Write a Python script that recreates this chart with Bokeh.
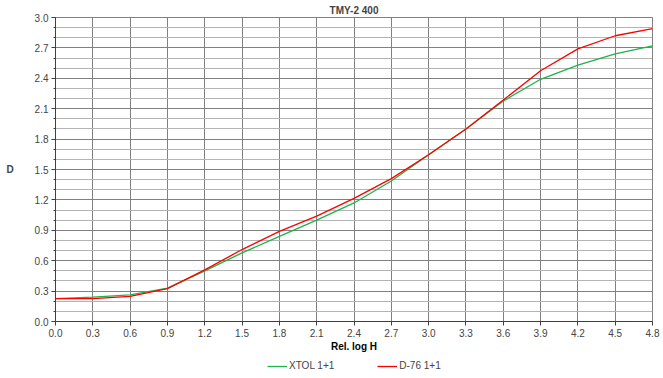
from bokeh.plotting import figure
from bokeh.layouts import column
from bokeh.models import Legend, LegendItem, FixedTicker, Range1d, Label
from bokeh.embed import file_html
from bokeh.resources import INLINE

log_h = [0.0, 0.3, 0.6, 0.9, 1.2, 1.5, 1.8, 2.1, 2.4, 2.7, 3.0, 3.3, 3.6, 3.9, 4.2, 4.5, 4.8]
xtol = [0.225, 0.24, 0.263, 0.33, 0.50, 0.677, 0.84, 1.00, 1.17, 1.387, 1.645, 1.90, 2.175, 2.39, 2.53, 2.64, 2.72]
d76 = [0.225, 0.225, 0.247, 0.325, 0.51, 0.71, 0.89, 1.04, 1.215, 1.41, 1.645, 1.90, 2.185, 2.475, 2.69, 2.82, 2.89]
series_names = ["XTOL 1+1", "D-76 1+1"]
series_colors = ["#1fb24a", "#ff0000"]
x_ticks = [round(0.3 * i, 1) for i in range(17)]
y_ticks = [round(0.3 * i, 1) for i in range(11)]
y_minor = [round(0.1 * i, 1) for i in range(31)]
x_label = "Rel. log H"
y_label = "D"

FONT = "Liberation Sans"
W = 663
H_MAIN = 339
H_ALL = 378
FRAME_LEFT = 55
FRAME_RIGHT = 652

p = figure(width=W, height=H_MAIN, output_backend="svg", toolbar_location=None,
           x_range=Range1d(0, 4.8), y_range=Range1d(0, 3.0),
           title="TMY-2 400", min_border_left=FRAME_LEFT, min_border_right=W - FRAME_RIGHT,
           min_border_top=0, min_border_bottom=0)

p.title.text_font = FONT
p.title.text_font_size = "10px"
p.title.text_font_style = "bold"
p.title.align = "center"
p.title.offset = 0
p.title.standoff = 4

p.xaxis.ticker = FixedTicker(ticks=x_ticks)
p.yaxis.ticker = FixedTicker(ticks=y_ticks, minor_ticks=y_minor)
p.xaxis.major_label_overrides = {t: f"{t:.1f}" for t in x_ticks}
p.yaxis.major_label_overrides = {t: f"{t:.1f}" for t in y_ticks}
p.yaxis.axis_label = y_label
p.yaxis.axis_label_orientation = "horizontal"
for ax in (p.xaxis, p.yaxis):
    ax.axis_label_text_font = FONT
    ax.axis_label_text_font_size = "10px"
    ax.axis_label_text_font_style = "bold"
    ax.major_label_text_font = FONT
    ax.major_label_text_font_size = "10px"
    ax.axis_line_color = "#404040"
    ax.major_tick_line_color = "#404040"
    ax.major_tick_out = 4
    ax.major_tick_in = 0
    ax.major_label_standoff = 3
p.xaxis.minor_tick_line_color = None
p.yaxis.minor_tick_out = 2
p.yaxis.minor_tick_in = 0
p.yaxis.minor_tick_line_color = "#404040"
p.yaxis.axis_label_standoff = 18

p.xgrid.grid_line_color = "#808080"
p.ygrid.grid_line_color = "#808080"
p.ygrid.minor_grid_line_color = "#b4b4b4"
p.outline_line_color = "#808080"

p.line(log_h, xtol, line_color=series_colors[0], line_width=1.3)
p.line(log_h, d76, line_color=series_colors[1], line_width=1.3)

# strip below the chart: x-axis title and legend (its frame is aligned with the chart's frame)
lg = figure(width=W, height=H_ALL - H_MAIN, output_backend="svg", toolbar_location=None,
            x_range=Range1d(0, 1), y_range=Range1d(100, 101),
            min_border_left=0, min_border_right=0, min_border_top=0, min_border_bottom=0)
lg.axis.visible = False
lg.grid.visible = False
lg.outline_line_color = None
lg.add_layout(Label(x=(FRAME_RIGHT - FRAME_LEFT) / 2, y=32, x_units="screen", y_units="screen",
                    text=x_label, text_font=FONT, text_font_size="10px", text_font_style="bold",
                    text_align="center", text_baseline="middle", text_color="#000000"))
items = []
for name, col, vals in zip(series_names, series_colors, [xtol, d76]):
    r = lg.line(log_h, vals, line_color=col, line_width=1.3)
    items.append(LegendItem(label=name, renderers=[r]))
legend = Legend(items=items, orientation="horizontal", location=(267 - FRAME_LEFT, 7),
                border_line_color=None, background_fill_alpha=0,
                label_text_font=FONT, label_text_font_size="10px",
                glyph_width=20, glyph_height=10, label_standoff=2,
                spacing=43, padding=1, margin=0, label_height=10)
lg.add_layout(legend, "center")

layout = column(p, lg, spacing=0)
open("out.html", "w").write(file_html(layout, INLINE))
